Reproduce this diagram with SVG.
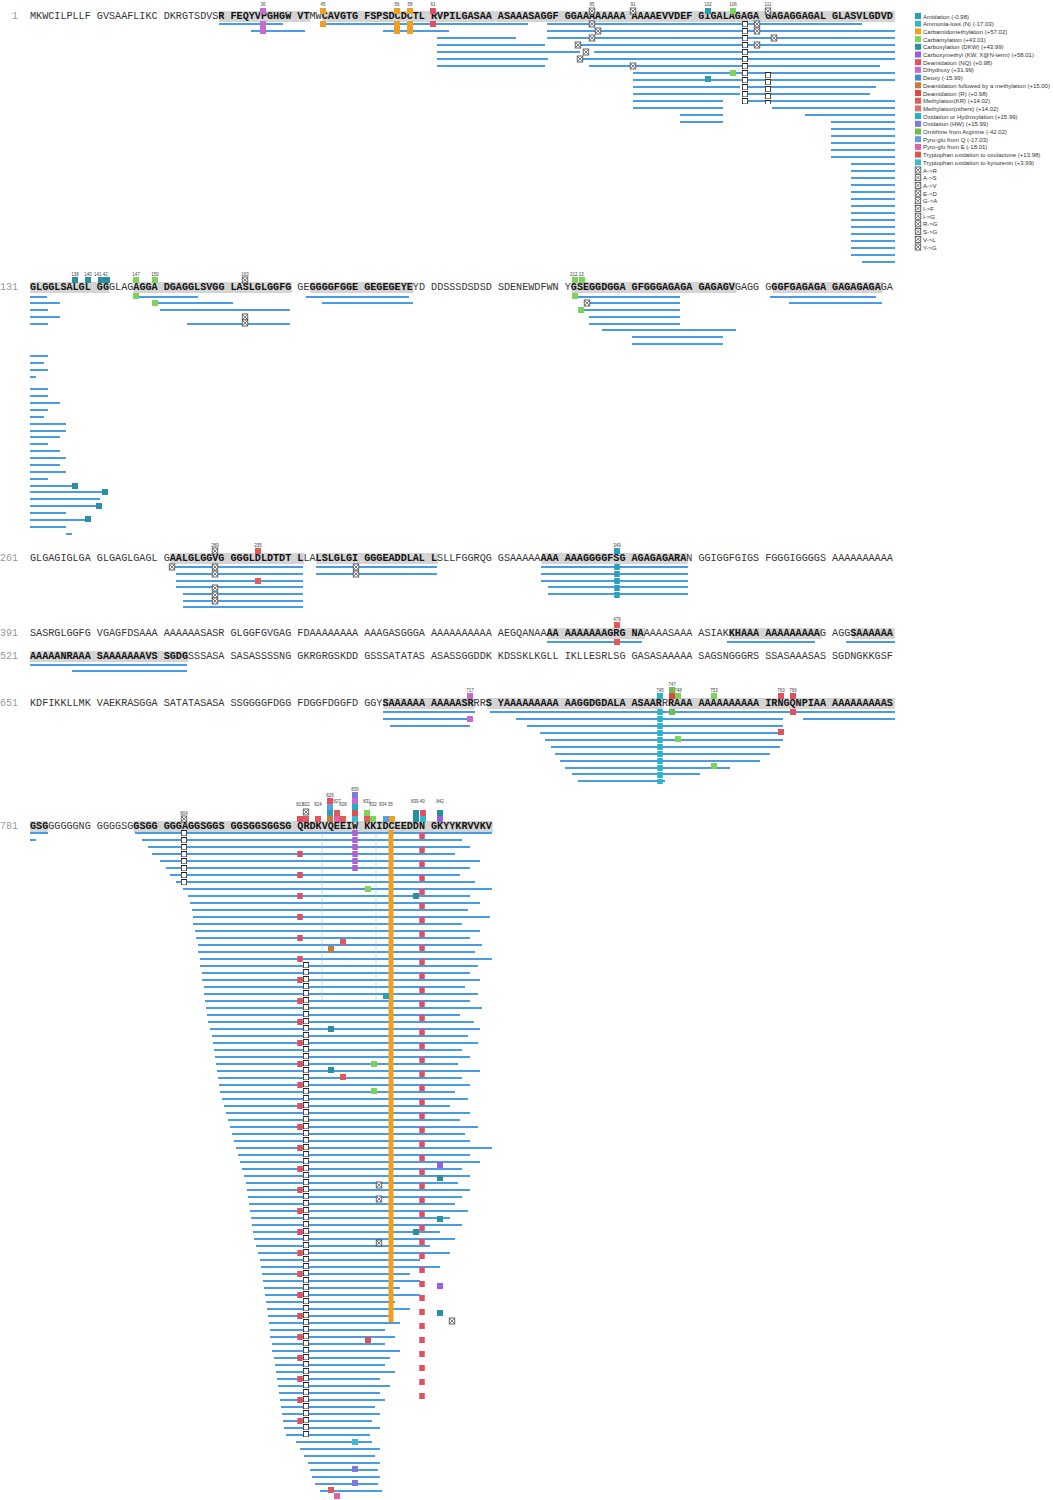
<svg xmlns="http://www.w3.org/2000/svg" width="1053" height="1500" viewBox="0 0 1053 1500">
<style>
.seq{font-family:"Liberation Mono",monospace;font-size:10.15px;fill:#333}
.bd{font-weight:bold;fill:#111}
.num{font-family:"Liberation Mono",monospace;font-size:10px;fill:#999}
.hl{fill:#d4d4d4}
.b{stroke:#4a9be6;stroke-width:2.2;fill:none}
.lg{font-family:"Liberation Sans",Arial,sans-serif;font-size:6px;fill:#333}
.pos{font-family:"Liberation Sans",Arial,sans-serif;font-size:4.5px;fill:#444;text-anchor:middle}
.mt{font-family:"Liberation Sans",Arial,sans-serif;font-size:5px;fill:#fff;text-anchor:middle}
.xb{fill:#fff;stroke:#222;stroke-width:0.7}
</style>
<defs>
<g id="X"><rect class="xb" x="-2.8" y="0" width="5.6" height="6"/><path d="M-2 1L2 5M2 1L-2 5" stroke="#222" stroke-width="0.6"/></g>
</defs>
<rect width="1053" height="1500" fill="#fff"/>

<g id="highlights">
<rect class="hl" x="218.8" y="11" width="91.3" height="11"/><rect class="hl" x="322.3" y="11" width="572.5" height="11"/>
<rect class="hl" x="30" y="282" width="79.2" height="11"/><rect class="hl" x="133.5" y="282" width="158.4" height="11"/><rect class="hl" x="310.1" y="282" width="103.6" height="11"/><rect class="hl" x="572" y="282" width="164.4" height="11"/><rect class="hl" x="773" y="282" width="109.6" height="11"/>
<rect class="hl" x="170.1" y="553" width="133.9" height="11"/><rect class="hl" x="316.2" y="553" width="121.8" height="11"/><rect class="hl" x="541.6" y="553" width="146.1" height="11"/>
<rect class="hl" x="547.7" y="628" width="97.4" height="11"/><rect class="hl" x="730.4" y="628" width="91.3" height="11"/><rect class="hl" x="852.2" y="628" width="42.6" height="11"/>
<rect class="hl" x="30" y="651" width="158.3" height="11"/>
<rect class="hl" x="383.2" y="698" width="91.4" height="11"/><rect class="hl" x="486.8" y="698" width="176.6" height="11"/><rect class="hl" x="669.5" y="698" width="225.3" height="11"/>
<rect class="hl" x="30" y="821" width="18.3" height="11"/><rect class="hl" x="133.5" y="821" width="359.3" height="11"/>
</g>

<g id="sequence">
<text class="num" x="12" y="19">1</text>
<text class="seq" x="30" y="19" xml:space="preserve">MKWCILPLLF GVSAAFLIKC DKRGTSDVS<tspan class="bd">R FEQYVPGHGW VT</tspan>MW<tspan class="bd">CAVGTG FSPSDCDCTL RVPILGASAA ASAAASAGGF GGAAAAAAAA AAAAEVVDEF GIGALAGAGA GAGAGGAGAL GLASVLGDVD</tspan></text>
<text class="num" x="0" y="290">131</text>
<text class="seq" x="30" y="290" xml:space="preserve"><tspan class="bd">GLGGLSALGL GG</tspan>GLAG<tspan class="bd">AGGA DGAGGLSVGG LASLGLGGFG</tspan> GE<tspan class="bd">GGGGFGGE GEGEGEYE</tspan>YD DDSSSDSDSD SDENEWDFWN Y<tspan class="bd">GSEGGDGGA GFGGGAGAGA GAGAGV</tspan>GAGG G<tspan class="bd">GGFGAGAGA GAGAGAGA</tspan>GA</text>
<text class="num" x="0" y="561">261</text>
<text class="seq" x="30" y="561" xml:space="preserve">GLGAGIGLGA GLGAGLGAGL G<tspan class="bd">AALGLGGVG GGGLDLDTDT L</tspan>LA<tspan class="bd">LSLGLGI GGGEADDLAL L</tspan>SLLFGGRQG GSAAAAA<tspan class="bd">AAA AAAGGGGFSG AGAGAGARA</tspan>N GGIGGFGIGS FGGGIGGGGS AAAAAAAAAA</text>
<text class="num" x="0" y="636">391</text>
<text class="seq" x="30" y="636" xml:space="preserve">SASRGLGGFG VGAGFDSAAA AAAAAASASR GLGGFGVGAG FDAAAAAAAA AAAGASGGGA AAAAAAAAAA AEGQANAA<tspan class="bd">AA AAAAAAAGRG NA</tspan>AAAASAAA ASIAK<tspan class="bd">KHAAA AAAAAAAAA</tspan>G AGG<tspan class="bd">SAAAAAA</tspan></text>
<text class="num" x="0" y="659">521</text>
<text class="seq" x="30" y="659" xml:space="preserve"><tspan class="bd">AAAAANRAAA SAAAAAAAVS SGDG</tspan>SSSASA SASASSSSNG GKRGRGSKDD GSSSATATAS ASASSGGDDK KDSSKLKGLL IKLLESRLSG GASASAAAAA SAGSNGGGRS SSASAAASAS SGDNGKKGSF</text>
<text class="num" x="0" y="706">651</text>
<text class="seq" x="30" y="706" xml:space="preserve">KDFIKKLLMK VAEKRASGGA SATATASASA SSGGGGFDGG FDGGFDGGFD GGY<tspan class="bd">SAAAAAA AAAAASR</tspan>RR<tspan class="bd">S YAAAAAAAAA AAGGDGDALA ASAAR</tspan>R<tspan class="bd">RAAA AAAAAAAAAA IRNGQNPIAA AAAAAAAAAS</tspan></text>
<text class="num" x="0" y="829">781</text>
<text class="seq" x="30" y="829" xml:space="preserve"><tspan class="bd">GSG</tspan>GGGGGNG GGGGSG<tspan class="bd">GSGG GGGAGGSGGS GGSGGSGGSG QRDKVQEEIW KKIDCEEDDN GKYYKRVVKV</tspan></text>
</g>

<g id="connectors">
<path class="b" d="M219 24H283M323 24H528M547 24H862M251 31H305M383 31H449M547 31H895
M437 38H516M547 38H895M437 45H545M578 45H895M437 52H580M594 52H895M437 59H548M578 59H895M437 66H545M589 66H880
M633 73H895M633 80H895M633 87H740M742 87H876M633 94H740M742 94H870M633 101H723M742 101H895M633 108H723M772 108H895
M680 115H723M805 115H895M680 122H723M831 122H895M831 129H895M831 136H895M831 143H895M831 150H895M831 157H895
M851 164H895M851 171H895M851 178H895M851 185H895M851 192H895M851 199H895M851 206H895M851 213H895M851 220H895M851 227H895M851 234H895M851 241H895M851 248H895M851 255H895M862 262H895"/>
<path class="b" d="M30 297H47M137 297H198M306 297H409M572 297H680M770 297H876M30 303H60M153 303H233M322 303H413M587 303H680M789 303H882
M30 310H48M160 310H237M578 310H680M30 317H60M187 310H290M589 317H680M187 324H290M30 324H48M589 324H680M602 330H736M632 337H723M632 344H723
M30 356H48M30 363H44M30 370H48M30 377H36M30 389H48M30 396H48M30 403H60M30 410H48M30 417H44M30 424H66M30 431H66M30 437H60M30 444H48M30 451H60
M30 458H66M30 465H60M30 472H66M30 479H48M30 486H78M30 492H108M30 499H100M30 506H100M30 513H66M30 520H90M30 527H66M72 534H66"/>
<path class="b" d="M169 567H303M316 567H437M541 567H688M176 574H303M316 574H437M541 574H688M176 581H303M541 581H688M176 587H303M548 587H688M183 594H303M548 594H688M183 601H303M183 607H303
M547 642H642M727 642H815M846 642H895M30 665H187M72 671H187
M383 712H475M490 712H895M383 719H472M516 719H783M803 719H895M390 726H470M527 726H783M540 733H783M545 740H783M551 747H780M555 754H770M560 761H760M565 768H730M572 774H700M578 781H665"/>
<path class="b" d="M30 833H48M30 840H36
M135 833H492M142 840H462M148 847H470M152 854H455M160 861H480M166 868H470M170 875H460M176 882H475M183 889H492M188 896H470M190 903H480M192 910H468M193 917H490M193 924H462M195 931H480M196 938H470M198 945H482M198 952H475M200 959H492M200 966H478
M202 973H470M202 980H480M204 987H465M204 994H478M205 1001H470M206 1008H482M207 1015H460M208 1022H474M210 1029H480M212 1036H468M213 1043H478M214 1050H462M215 1057H470M216 1064H458M217 1071H480M218 1078H462M219 1085H470M220 1092H455M222 1099H468M224 1106H450
M226 1113H470M228 1120H460M230 1127H478M232 1134H465M234 1141H470M236 1148H492M238 1155H470M240 1162H480M242 1169H462M244 1176H470M246 1183H458M247 1190H470M248 1197H462M249 1204H455M250 1211H468M251 1218H450M252 1225H462M253 1232H440M254 1239H455M256 1246H430
M258 1253H450M260 1260H420M261 1267H440M262 1274H410M263 1281H420M264 1288H400M265 1295H420M266 1302H395M267 1309H410M268 1316H390M269 1323H400M270 1330H385M270 1337H395M272 1344H385M272 1351H400M274 1358H390M275 1365H385M276 1372H395M277 1379H380M278 1386H390
M279 1393H380M280 1400H385M281 1407H375M282 1414H380M283 1421H372M284 1428H380M286 1435H370M296 1442H372M300 1449H380M304 1456H375M308 1463H380M310 1470H378M312 1477H380M315 1484H378M320 1491H382"/>
</g>

<g id="mod-columns">
<line x1="745" y1="21" x2="745" y2="104" stroke="#222" stroke-width="6" stroke-dasharray="6 1"/><line x1="745" y1="22" x2="745" y2="104" stroke="#fff" stroke-width="4.4" stroke-dasharray="4.4 2.6"/>
<line x1="768" y1="72" x2="768" y2="104" stroke="#222" stroke-width="6" stroke-dasharray="6 1"/><line x1="768" y1="73" x2="768" y2="104" stroke="#fff" stroke-width="4.4" stroke-dasharray="4.4 2.6"/>
<line x1="617" y1="564" x2="617" y2="598" stroke="#2a9fc0" stroke-width="5.5" stroke-dasharray="6 1"/>
<line x1="660" y1="709" x2="660" y2="784" stroke="#2ab4cc" stroke-width="5.5" stroke-dasharray="6 1"/>
<line x1="184" y1="830" x2="184" y2="886" stroke="#222" stroke-width="6" stroke-dasharray="6 1"/><line x1="184" y1="831" x2="184" y2="886" stroke="#fff" stroke-width="4.4" stroke-dasharray="4.4 2.6"/>
<line x1="306" y1="962" x2="306" y2="1438" stroke="#222" stroke-width="6" stroke-dasharray="6 1"/><line x1="306" y1="963" x2="306" y2="1438" stroke="#fff" stroke-width="4.4" stroke-dasharray="4.4 2.6"/>
<line x1="300" y1="851" x2="300" y2="1432" stroke="#e05060" stroke-width="5.5" stroke-dasharray="6 15"/>
<line x1="391" y1="830" x2="391" y2="1322" stroke="#f0a020" stroke-width="5"/>
<line x1="422" y1="833" x2="422" y2="1400" stroke="#e05060" stroke-width="5.5" stroke-dasharray="6 8"/>
<line x1="355" y1="830" x2="355" y2="872" stroke="#b060d0" stroke-width="5.5" stroke-dasharray="6 1"/>
<line x1="322" y1="833" x2="322" y2="1000" stroke="#9bc" stroke-width="0.5"/><line x1="376" y1="833" x2="376" y2="1000" stroke="#9bc" stroke-width="0.5"/>
</g>

<g id="mods">
<text class="pos" x="263" y="6">36</text><rect x="260" y="8" width="6" height="6" fill="#c86bd0"/>
<text class="pos" x="323" y="6">45</text><rect x="320" y="8" width="6" height="6" fill="#f0a020"/>
<text class="pos" x="397" y="6">56</text><rect x="394" y="8" width="6" height="6" fill="#f0a020"/>
<text class="pos" x="410" y="6">58</text><rect x="407" y="8" width="6" height="6" fill="#f0a020"/>
<text class="pos" x="433" y="6">61</text><rect x="430" y="8" width="6" height="6" fill="#e05060"/>
<text class="pos" x="592" y="6">85</text><use href="#X" x="592" y="8"/>
<text class="pos" x="633" y="6">91</text><use href="#X" x="633" y="8"/>
<text class="pos" x="708" y="6">102</text><rect x="705" y="8" width="6" height="6" fill="#2aa0b8"/>
<text class="pos" x="733" y="6">106</text><rect x="730" y="8" width="6" height="6" fill="#7dd35c"/>
<text class="pos" x="768" y="6">111</text><use href="#X" x="768" y="8"/>
<rect x="260" y="21" width="6" height="13" fill="#c86bd0"/><rect x="320" y="21" width="6" height="6" fill="#f0a020"/><rect x="394" y="21" width="6" height="13" fill="#f0a020"/><rect x="407" y="21" width="6" height="13" fill="#f0a020"/><rect x="430" y="21" width="6" height="6" fill="#e05060"/>
<use href="#X" x="592" y="21"/><use href="#X" x="598" y="28"/><use href="#X" x="592" y="35"/><use href="#X" x="578" y="42"/><use href="#X" x="586" y="49"/><use href="#X" x="580" y="56"/><use href="#X" x="633" y="63"/><use href="#X" x="757" y="21"/><use href="#X" x="757" y="28"/><use href="#X" x="757" y="42"/><use href="#X" x="774" y="35"/>
<rect x="705" y="76" width="6" height="6" fill="#2aa0b8"/><rect x="730" y="70" width="6" height="6" fill="#7dd35c"/>
<text class="pos" x="75" y="276">138</text><text class="pos" x="88" y="276">140</text><text class="pos" x="101" y="276">141 42</text><text class="pos" x="136" y="276">147</text><text class="pos" x="155" y="276">150</text><text class="pos" x="245" y="276">163</text><text class="pos" x="577" y="276">212 13</text>
<rect x="72" y="277" width="6" height="6" fill="#2a8fa0"/><rect x="85" y="277" width="6" height="6" fill="#2a8fa0"/><rect x="98" y="277" width="6" height="6" fill="#2a8fa0"/><rect x="104" y="277" width="6" height="6" fill="#2a8fa0"/><rect x="133" y="277" width="6" height="6" fill="#7dd35c"/><rect x="152" y="277" width="6" height="6" fill="#7dd35c"/><use href="#X" x="245" y="277"/><rect x="572" y="277" width="6" height="6" fill="#7dd35c"/><rect x="579" y="277" width="6" height="6" fill="#7dd35c"/>
<rect x="133" y="293" width="6" height="6" fill="#7dd35c"/><rect x="152" y="300" width="6" height="6" fill="#7dd35c"/><use href="#X" x="245" y="314"/><use href="#X" x="245" y="320"/><rect x="572" y="293" width="6" height="6" fill="#7dd35c"/><use href="#X" x="587" y="300"/><rect x="578" y="307" width="6" height="6" fill="#7dd35c"/>
<rect x="72" y="483" width="6" height="6" fill="#2a8fa0"/><rect x="102" y="489" width="6" height="6" fill="#2a8fa0"/><rect x="96" y="503" width="6" height="6" fill="#2a8fa0"/><rect x="85" y="516" width="6" height="6" fill="#2a8fa0"/>
<text class="pos" x="215" y="547">289</text><use href="#X" x="215" y="548"/><text class="pos" x="258" y="547">295</text><rect x="255" y="548" width="6" height="6" fill="#e05a5a"/>
<use href="#X" x="172" y="564"/><use href="#X" x="215" y="564"/><use href="#X" x="215" y="571"/><use href="#X" x="215" y="585"/><use href="#X" x="215" y="592"/><use href="#X" x="215" y="598"/><use href="#X" x="356" y="564"/><use href="#X" x="356" y="571"/><rect x="255" y="578" width="6" height="6" fill="#e05a5a"/>
<text class="pos" x="617" y="547">349</text><rect x="614" y="548" width="6" height="6" fill="#2a9fc0"/>
<text class="pos" x="617" y="621">479</text><rect x="614" y="622" width="6" height="6" fill="#e05a5a"/><rect x="614" y="639" width="6" height="6" fill="#e05a5a"/>
<text class="pos" x="470" y="692">717</text><rect x="467" y="693" width="6" height="6" fill="#c86bd0"/><rect x="467" y="716" width="6" height="6" fill="#c86bd0"/>
<text class="pos" x="660" y="692">745</text><text class="pos" x="672" y="686">747</text><text class="pos" x="678" y="692">748</text><text class="pos" x="714" y="692">753</text><text class="pos" x="781" y="692">763</text><text class="pos" x="793" y="692">766</text>
<rect x="657" y="693" width="6" height="6" fill="#2ab4cc"/><rect x="669" y="687" width="6" height="6" fill="#6bc04a"/><rect x="669" y="693" width="6" height="6" fill="#e04848"/><rect x="675" y="693" width="6" height="6" fill="#7dd35c"/><rect x="711" y="693" width="6" height="6" fill="#7dd35c"/><rect x="778" y="693" width="6" height="6" fill="#e05060"/><rect x="790" y="693" width="6" height="6" fill="#e05060"/>
<rect x="669" y="709" width="6" height="6" fill="#6bc04a"/><rect x="790" y="709" width="6" height="6" fill="#e05060"/><rect x="778" y="729" width="6" height="6" fill="#e05060"/><rect x="675" y="736" width="6" height="6" fill="#7dd35c"/><rect x="711" y="763" width="6" height="6" fill="#7dd35c"/>
<text class="pos" x="184" y="815">804</text><use href="#X" x="184" y="816"/>
<text class="pos" x="300" y="806">821</text><text class="pos" x="306" y="806">822</text><text class="pos" x="318" y="806">824</text><text class="pos" x="330" y="797">826</text><text class="pos" x="337" y="803">827</text><text class="pos" x="343" y="806">828</text><text class="pos" x="355" y="791">830</text><text class="pos" x="367" y="803">831</text><text class="pos" x="373" y="806">832</text><text class="pos" x="386" y="806">834 35</text><text class="pos" x="418" y="803">839 40</text><text class="pos" x="440" y="803">842</text>
<rect x="297" y="816" width="6" height="6" fill="#e05060"/><rect x="303" y="816" width="6" height="6" fill="#e05a5a"/><use href="#X" x="306" y="809"/><rect x="315" y="816" width="6" height="6" fill="#e05a5a"/><rect x="327" y="798" width="6" height="6" fill="#e05060"/><rect x="327" y="804" width="6" height="6" fill="#5aa0e0"/><rect x="327" y="810" width="6" height="6" fill="#2aa0b8"/><rect x="327" y="816" width="6" height="6" fill="#c87838"/><rect x="334" y="810" width="6" height="6" fill="#e05a5a"/><rect x="334" y="816" width="6" height="6" fill="#e060a0"/><rect x="340" y="816" width="6" height="6" fill="#e05a5a"/>
<rect x="352" y="792" width="6" height="6" fill="#7a7ae0"/><rect x="352" y="798" width="6" height="6" fill="#c86bd0"/><rect x="352" y="804" width="6" height="6" fill="#1fb0c8"/><rect x="352" y="810" width="6" height="6" fill="#e05050"/><rect x="352" y="816" width="6" height="6" fill="#40b8d0"/>
<rect x="364" y="810" width="6" height="6" fill="#7dd35c"/><rect x="364" y="816" width="6" height="6" fill="#e05a5a"/><rect x="370" y="816" width="6" height="6" fill="#7dd35c"/><rect x="383" y="816" width="6" height="6" fill="#5aa0e0"/><rect x="389" y="816" width="6" height="6" fill="#f0a020"/>
<rect x="413" y="810" width="6" height="6" fill="#2a8fa0"/><rect x="413" y="816" width="6" height="6" fill="#2a8fa0"/><rect x="420" y="810" width="6" height="6" fill="#e05060"/><rect x="420" y="816" width="6" height="6" fill="#35b5c8"/><rect x="437" y="810" width="6" height="6" fill="#2a8fa0"/><rect x="437" y="816" width="6" height="6" fill="#9a5fe0"/>
<rect x="365" y="886" width="6" height="6" fill="#7dd35c"/><rect x="413" y="893" width="6" height="6" fill="#2a8fa0"/><rect x="328" y="946" width="6" height="6" fill="#c87838"/><rect x="340" y="939" width="6" height="6" fill="#e05a5a"/><rect x="383" y="993" width="6" height="6" fill="#2aa0b8"/><rect x="328" y="1026" width="6" height="6" fill="#2a8fa0"/><rect x="371" y="1061" width="6" height="6" fill="#7dd35c"/><rect x="328" y="1067" width="6" height="6" fill="#2a8fa0"/><rect x="340" y="1074" width="6" height="6" fill="#e05a5a"/><rect x="371" y="1088" width="6" height="6" fill="#7dd35c"/>
<use href="#X" x="379" y="1182"/><use href="#X" x="379" y="1196"/><use href="#X" x="379" y="1240"/><use href="#X" x="452" y="1318"/>
<rect x="437" y="1162" width="6" height="6" fill="#9a5fe0"/><rect x="437" y="1175" width="6" height="6" fill="#2a8fa0"/><rect x="437" y="1216" width="6" height="6" fill="#2a8fa0"/><rect x="413" y="1229" width="6" height="6" fill="#2a8fa0"/><rect x="437" y="1283" width="6" height="6" fill="#9a5fe0"/><rect x="437" y="1310" width="6" height="6" fill="#2a8fa0"/>
<rect x="365" y="1337" width="6" height="6" fill="#e05050"/><rect x="352" y="1439" width="6" height="6" fill="#40b8d0"/><rect x="352" y="1466" width="6" height="6" fill="#7a7ae0"/><rect x="352" y="1480" width="6" height="6" fill="#7a7ae0"/><rect x="334" y="1493" width="6" height="6" fill="#e060a0"/><rect x="328" y="1487" width="6" height="6" fill="#e05a5a"/>
</g>

<g id="legend">
<rect x="915" y="13" width="6" height="6" fill="#2aa0b8"/><text class="lg" x="923" y="18.5">Amidation (-0.98)</text>
<rect x="915" y="20.7" width="6" height="6" fill="#35b5c8"/><text class="lg" x="923" y="26.2">Ammonia-loss (N) (-17.03)</text>
<rect x="915" y="28.4" width="6" height="6" fill="#f0a020"/><text class="lg" x="923" y="33.9">Carbamidomethylation (+57.02)</text>
<rect x="915" y="36.1" width="6" height="6" fill="#7dd35c"/><text class="lg" x="923" y="41.6">Carbamylation (+43.01)</text>
<rect x="915" y="43.8" width="6" height="6" fill="#2a8fa0"/><text class="lg" x="923" y="49.3">Carboxylation (DKW) (+43.99)</text>
<rect x="915" y="51.5" width="6" height="6" fill="#9a5fe0"/><text class="lg" x="923" y="57">Carboxymethyl (KW, X@N-term) (+58.01)</text>
<rect x="915" y="59.2" width="6" height="6" fill="#e05060"/><text class="lg" x="923" y="64.7">Deamidation (NQ) (+0.98)</text>
<rect x="915" y="66.9" width="6" height="6" fill="#c86bd0"/><text class="lg" x="923" y="72.4">Dihydroxy (+31.99)</text>
<rect x="915" y="74.6" width="6" height="6" fill="#3c8fd0"/><text class="lg" x="923" y="80.1">Deoxy (-15.99)</text>
<rect x="915" y="82.3" width="6" height="6" fill="#c87838"/><text class="lg" x="923" y="87.8">Deamidation followed by a methylation (+15.00)</text>
<rect x="915" y="90" width="6" height="6" fill="#e04848"/><text class="lg" x="923" y="95.5">Deamidation (R) (+0.98)</text>
<rect x="915" y="97.7" width="6" height="6" fill="#e05a5a"/><text class="lg" x="923" y="103.2">Methylation(KR) (+14.02)</text>
<rect x="915" y="105.4" width="6" height="6" fill="#e07070"/><text class="lg" x="923" y="110.9">Methylation(others) (+14.02)</text>
<rect x="915" y="113.1" width="6" height="6" fill="#1fb0c8"/><text class="lg" x="923" y="118.6">Oxidation or Hydroxylation (+15.99)</text>
<rect x="915" y="120.8" width="6" height="6" fill="#7a7ae0"/><text class="lg" x="923" y="126.3">Oxidation (HW) (+15.99)</text>
<rect x="915" y="128.5" width="6" height="6" fill="#6bc04a"/><text class="lg" x="923" y="134">Ornithine from Arginine (-42.02)</text>
<rect x="915" y="136.2" width="6" height="6" fill="#5aa0e0"/><text class="lg" x="923" y="141.7">Pyro-glu from Q (-17.03)</text>
<rect x="915" y="143.9" width="6" height="6" fill="#e060a0"/><text class="lg" x="923" y="149.4">Pyro-glu from E (-18.01)</text>
<rect x="915" y="151.6" width="6" height="6" fill="#e05050"/><text class="lg" x="923" y="157.1">Tryptophan oxidation to oxolactone (+13.98)</text>
<rect x="915" y="159.3" width="6" height="6" fill="#40b8d0"/><text class="lg" x="923" y="164.8">Tryptophan oxidation to kynurenin (+3.99)</text>
<use href="#X" x="918" y="167"/><text class="lg" x="923" y="172.5">A-&gt;R</text>
<use href="#X" x="918" y="174.7"/><text class="lg" x="923" y="180.2">A-&gt;S</text>
<use href="#X" x="918" y="182.4"/><text class="lg" x="923" y="187.9">A-&gt;V</text>
<use href="#X" x="918" y="190.1"/><text class="lg" x="923" y="195.6">E-&gt;D</text>
<use href="#X" x="918" y="197.8"/><text class="lg" x="923" y="203.3">G-&gt;A</text>
<use href="#X" x="918" y="205.5"/><text class="lg" x="923" y="211">I-&gt;F</text>
<use href="#X" x="918" y="213.2"/><text class="lg" x="923" y="218.7">I-&gt;G</text>
<use href="#X" x="918" y="220.9"/><text class="lg" x="923" y="226.4">R-&gt;G</text>
<use href="#X" x="918" y="228.6"/><text class="lg" x="923" y="234.1">S-&gt;G</text>
<use href="#X" x="918" y="236.3"/><text class="lg" x="923" y="241.8">V-&gt;L</text>
<use href="#X" x="918" y="244"/><text class="lg" x="923" y="249.5">Y-&gt;G</text>
</g>
</svg>
